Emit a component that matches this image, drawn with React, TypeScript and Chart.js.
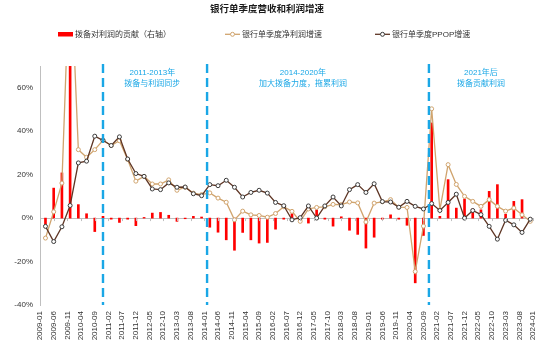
import { useEffect, useRef } from 'react';
import { Chart, registerables } from 'chart.js';

Chart.register(...registerables);

// Monthly category axis 2009-01 … 2024-01
const months: string[] = [];
for (let y = 2009; y <= 2024; y++) {
  for (let m = 1; m <= 12; m++) {
    const s = `${y}-${String(m).padStart(2, '0')}`;
    if (s <= '2024-01') months.push(s);
  }
}

// Quarter-end dates of the data points (2009-03 … 2023-12)
const quarters: string[] = [];
for (let y = 2009; y <= 2023; y++) {
  for (const m of ['03', '06', '09', '12']) quarters.push(`${y}-${m}`);
}

// 拨备对利润的贡献（右轴）, %
const provisionContribution = [
  -3.5, 13.8, 20.8, 95, 6.2, 2.0, -6.2, 0.8, -0.5, -2.0, -0.5, -3.5,
  0.3, 2.3, 2.6, 1.3, -1.5, -0.3, 0.8, 0.5, -4.2, -6.5, -10.0, -14.8,
  -6.6, -10.0, -11.5, -11.2, -5.1, -0.5, 2.0, -0.8, -2.3, 3.8, -0.5, -3.7,
  0.6, -5.6, -7.5, -13.8, -8.8, -0.5, 1.5, -0.5, -3.3, -29.8, -8.0, 43.8,
  0.8, 17.7, 4.6, 8.8, 4.2, 3.8, 12.3, 15.4, 1.8, 7.7, 8.5, 0,
];

// 银行单季度净利润增速, %
const netProfitGrowth = [
  -9.2, 2.9, 16.1, 122, 31.5, 28.0, 31.5, 35.8, 33.4, 35.6, 27.0, 17.0,
  19.2, 15.7, 15.7, 17.6, 12.8, 14.2, 11.5, 10.8, 11.6, 9.2, 7.3, -0.8,
  3.2, 1.5, 1.2, 0.4, 2.1, 5.2, 3.1, -1.5, 4.2, 4.9, 5.2, 6.3,
  6.2, 7.4, 7.0, -1.8, 6.9, 7.5, 8.5, 5.0, 4.9, -24.6, -3.7, 50.3,
  3.8, 24.6, 15.5, 10.0, 7.7, 5.4, 8.5, 5.4, 3.2, 4.6, 1.5, -1.5,
];

// 银行单季度PPOP增速, %
const ppopGrowth = [
  -3.8, -10.8, -4.0, 5.8, 25.4, 26.2, 37.7, 35.8, 33.4, 37.4, 27.2, 20.5,
  19.2, 13.4, 13.1, 16.2, 14.2, 14.3, 11.2, 10.3, 15.4, 14.9, 17.4, 14.2,
  9.7, 11.8, 12.8, 11.5, 7.2, 5.7, -0.8, 0.2, 5.6, 0.0, 5.6, 9.7,
  5.6, 13.1, 15.4, 11.8, 15.8, 7.6, 7.4, 5.0, 7.7, 5.4, 4.2, 6.7,
  3.5, 7.2, 11.0, 0.0, 3.5, 1.6, -3.8, -9.7, -1.0, -3.1, -6.6, -0.5,
];

const yTicks = [-40, -20, 0, 20, 40, 60];
const periodLines = ['2010-12', '2014-02', '2020-11'];
const noteAnchors = ['2012-06', '2017-01', '2022-06'];
const noteTitles = ['2011-2013年', '2014-2020年', '2021年后'];
const noteSubtitles = ['拨备与利润同步', '加大拨备力度，拖累利润', '拨备贡献利润'];

const seriesNames = ['拨备对利润的贡献（右轴）', '银行单季度净利润增速', '银行单季度PPOP增速'];
const chartTitle = '银行单季度营收和利润增速';

const RED = '#ff0000';
const TAN = '#d0a46e';
const BROWN = '#5e3524';
const MARKER_DARK = '#3a3a3a';
const BLUE = '#1aa7e6';
const FONT = "'Liberation Sans', Arial, 'Noto Sans CJK SC', sans-serif";

const toMonthly = (vals: number[]) =>
  months.map((m) => {
    const i = quarters.indexOf(m);
    return i >= 0 ? vals[i] : null;
  });

const decorPlugin = {
  id: 'decor',
  afterDatasetsDraw(chart: any) {
    const { ctx, chartArea, scales } = chart;
    const x = scales.x;
    ctx.save();
    // dashed period separators
    ctx.strokeStyle = BLUE;
    ctx.lineWidth = 2.4;
    ctx.setLineDash([9, 5]);
    periodLines.forEach((m) => {
      const px = x.getPixelForValue(months.indexOf(m));
      ctx.beginPath();
      ctx.moveTo(px, chartArea.top - 2);
      ctx.lineTo(px, chartArea.bottom);
      ctx.stroke();
    });
    ctx.setLineDash([]);
    // period notes
    ctx.fillStyle = BLUE;
    ctx.textAlign = 'center';
    ctx.textBaseline = 'middle';
    ctx.font = `8px ${FONT}`;
    noteAnchors.forEach((m, i) => {
      const px = x.getPixelForValue(months.indexOf(m));
      ctx.fillText(noteTitles[i], px, 73);
      ctx.fillText(noteSubtitles[i], px, 84);
    });
    ctx.restore();
  },
  afterDraw(chart: any) {
    const { ctx, scales, chartArea } = chart;
    ctx.save();
    // small tick marks on the zero line
    const x = scales.x;
    const y0 = scales.y.getPixelForValue(0);
    ctx.strokeStyle = '#bfbfbf';
    ctx.lineWidth = 1;
    months.forEach((m, i) => {
      if (i % 5 !== 0) return;
      const px = Math.round(x.getPixelForValue(i)) + 0.5;
      if (px < chartArea.left + 1) return;
      ctx.beginPath();
      ctx.moveTo(px, y0);
      ctx.lineTo(px, y0 + 3);
      ctx.stroke();
    });
    // title
    ctx.fillStyle = '#1a1a1a';
    ctx.textAlign = 'center';
    ctx.textBaseline = 'middle';
    ctx.font = `bold 9.5px ${FONT}`;
    ctx.fillText(chartTitle, 267, 9.5);
    // legend
    const ly = 34.3;
    ctx.font = `8px ${FONT}`;
    ctx.textAlign = 'left';
    ctx.fillStyle = RED;
    ctx.fillRect(58, 32, 15, 4.5);
    ctx.fillStyle = '#333';
    ctx.fillText(seriesNames[0], 75, ly);

    const drawLineKey = (x0: number, lineColor: string, markColor: string, label: string) => {
      ctx.strokeStyle = lineColor;
      ctx.lineWidth = 1.3;
      ctx.beginPath();
      ctx.moveTo(x0, ly);
      ctx.lineTo(x0 + 15, ly);
      ctx.stroke();
      ctx.beginPath();
      ctx.arc(x0 + 7.5, ly, 2, 0, Math.PI * 2);
      ctx.fillStyle = '#fff';
      ctx.fill();
      ctx.strokeStyle = markColor;
      ctx.lineWidth = 1;
      ctx.stroke();
      ctx.fillStyle = '#333';
      ctx.fillText(label, x0 + 17, ly);
    };
    drawLineKey(225, TAN, TAN, seriesNames[1]);
    drawLineKey(375, BROWN, MARKER_DARK, seriesNames[2]);
    ctx.restore();
  },
};

export default function App() {
  const ref = useRef<HTMLCanvasElement | null>(null);

  useEffect(() => {
    if (!ref.current) return;
    const chart = new Chart(ref.current, {
      type: 'line',
      data: {
        labels: months,
        datasets: [
          {
            type: 'bar',
            label: seriesNames[0],
            data: toMonthly(provisionContribution),
            backgroundColor: RED,
            barThickness: 2,
            yAxisID: 'y1',
            order: 3,
          } as any,
          {
            type: 'line',
            label: seriesNames[1],
            data: toMonthly(netProfitGrowth),
            borderColor: TAN,
            borderWidth: 1.3,
            pointRadius: 2,
            pointBorderWidth: 1,
            pointBackgroundColor: '#ffffff',
            pointBorderColor: TAN,
            spanGaps: true,
            tension: 0,
            yAxisID: 'y',
            order: 2,
          },
          {
            type: 'line',
            label: seriesNames[2],
            data: toMonthly(ppopGrowth),
            borderColor: BROWN,
            borderWidth: 1.3,
            pointRadius: 2,
            pointBorderWidth: 1,
            pointBackgroundColor: '#ffffff',
            pointBorderColor: MARKER_DARK,
            spanGaps: true,
            tension: 0,
            yAxisID: 'y',
            order: 1,
          },
        ],
      },
      options: {
        responsive: false,
        animation: false,
        events: [],
        font: { family: FONT },
        layout: { padding: { top: 66, right: 17, left: 0, bottom: 0 } },
        plugins: {
          legend: { display: false },
          title: { display: false },
          tooltip: { enabled: false },
        },
        scales: {
          x: {
            type: 'category',
            offset: false,
            grid: { display: false, drawTicks: false },
            border: { display: false },
            ticks: {
              autoSkip: false,
              minRotation: 90,
              maxRotation: 90,
              padding: 6,
              color: '#333',
              font: { size: 8, family: FONT },
              callback: (_v: any, i: number) => (i % 5 === 0 ? months[i] : ''),
            },
            afterFit: (s: any) => {
              s.height = 54;
            },
          },
          y: {
            position: 'left',
            min: -40,
            max: 70,
            afterBuildTicks: (s: any) => {
              s.ticks = yTicks.map((v) => ({ value: v }));
            },
            grid: {
              drawTicks: false,
              lineWidth: 1,
              color: (c: any) => (c.tick && c.tick.value === 0 ? '#bfbfbf' : 'rgba(0,0,0,0)'),
            },
            border: { display: true, color: '#bfbfbf', width: 1 },
            ticks: {
              padding: 7,
              color: '#333',
              font: { size: 8, family: FONT },
              callback: (v: any) => `${v}%`,
            },
            afterFit: (s: any) => {
              s.width = 40;
            },
          },
          y1: {
            display: false,
            position: 'right',
            min: -40,
            max: 70,
          },
        },
      } as any,
      plugins: [decorPlugin],
    });
    return () => chart.destroy();
  }, []);

  return (
    <div style={{ position: 'absolute', left: 0, top: 0, width: 550, height: 359, background: '#fff' }}>
      <canvas ref={ref} width={550} height={359} />
    </div>
  );
}
